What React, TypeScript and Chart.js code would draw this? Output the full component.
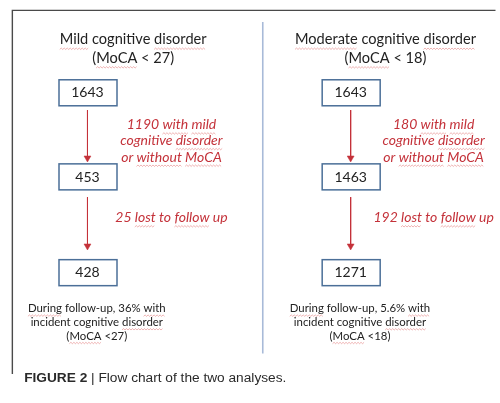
import React, { useEffect, useRef } from "react";
import { Chart, registerables } from "chart.js";
Chart.register(...registerables);

// ---- data ----
const panelTitles = ["Mild cognitive disorder", "Moderate cognitive disorder"];
const panelCriteria = ["(MoCA < 27)", "(MoCA < 18)"];
const mildCounts = [1643, 453, 428];
const moderateCounts = [1643, 1463, 1271];
const mildExcluded = [1190, 25];
const moderateExcluded = [180, 192];
const exclusionReasons = [
  ["with mild", "cognitive disorder", "or without MoCA"],
  ["lost to follow up"],
];
const incidence = ["36%", "5.6%"];
const incidenceCriteria = ["(MoCA <27)", "(MoCA <18)"];
const captionBold = "FIGURE 2";
const captionText = " | Flow chart of the two analyses.";
const flaggedWords = ["Mild", "Moderate", "disorder", "MoCA", "with", "mild", "without", "lost", "follow", "During"];

// ---- layout (pixel-space data coordinates) ----
const W = 500;
const H = 403;
const colBox = [84.5, 352.5];
const colNote = [170, 437];
const colTitle = [131, 388];
const colOutcome = [94, 362];
const boxTop = [77, 163, 261];
const BOX_W = 58;
const BOX_H = 26;
const arrows = [
  [108, 161],
  [197, 251],
];
const HEAD = 4;
const RED = "#c4323a";
const TEXT = "#222222";
const FONT = "Lato, 'Open Sans', sans-serif";

const counts = [mildCounts, moderateCounts];
const excluded = [mildExcluded, moderateExcluded];

function squiggle(ctx: CanvasRenderingContext2D, x1: number, x2: number, y: number) {
  ctx.save();
  ctx.strokeStyle = "rgba(215,70,70,0.5)";
  ctx.lineWidth = 0.8;
  ctx.beginPath();
  let up = false;
  for (let x = x1; x <= x2; x += 1.5) {
    const yy = y + (up ? -0.7 : 0.7);
    if (x === x1) ctx.moveTo(x, yy);
    else ctx.lineTo(x, yy);
    up = !up;
  }
  ctx.stroke();
  ctx.restore();
}

function drawLine(
  ctx: CanvasRenderingContext2D,
  text: string,
  cx: number,
  cy: number,
  font: string,
  color: string,
  size: number
) {
  ctx.save();
  ctx.font = font;
  ctx.fillStyle = color;
  ctx.textAlign = "left";
  ctx.textBaseline = "middle";
  const w = ctx.measureText(text).width;
  const x0 = cx - w / 2;
  ctx.fillText(text, x0, cy);
  let pos = 0;
  const tokens = text.split(" ");
  for (const tok of tokens) {
    const clean = tok.replace(/[(),<]/g, "");
    const start = text.indexOf(tok, pos);
    pos = start + tok.length;
    if (flaggedWords.includes(clean)) {
      const off = tok.indexOf(clean);
      const a = ctx.measureText(text.slice(0, start + off)).width;
      const b = ctx.measureText(clean).width;
      squiggle(ctx, x0 + a, x0 + a + b, cy + size * 0.62);
    }
  }
  ctx.restore();
}

const flowPlugin = {
  id: "flow",
  afterDatasetsDraw(chart: any) {
    const ctx: CanvasRenderingContext2D = chart.ctx;
    const xs = chart.scales.x;
    const ys = chart.scales.y;
    const px = (v: number) => xs.getPixelForValue(v);
    const py = (v: number) => ys.getPixelForValue(v);

    // frame
    ctx.save();
    ctx.strokeStyle = "#4a4a4a";
    ctx.lineWidth = 1.4;
    ctx.beginPath();
    ctx.moveTo(px(W), py(6));
    ctx.lineTo(px(8), py(6));
    ctx.lineTo(px(8), py(378));
    ctx.stroke();
    ctx.restore();

    for (let p = 0; p < 2; p++) {
      drawLine(ctx, panelTitles[p], px(colTitle[p]), py(36), `14.6px ${FONT}`, TEXT, 14.6);
      drawLine(ctx, panelCriteria[p], px(colTitle[p]), py(55), `14.6px ${FONT}`, TEXT, 14.6);

      counts[p].forEach((n, i) => {
        ctx.save();
        ctx.strokeStyle = "#4b6f98";
        ctx.lineWidth = 1.5;
        ctx.fillStyle = "#ffffff";
        const x = px(colBox[p] - BOX_W / 2);
        const y = py(boxTop[i]);
        ctx.fillRect(x, y, BOX_W, BOX_H);
        ctx.strokeRect(x, y, BOX_W, BOX_H);
        ctx.restore();
        drawLine(ctx, String(n), px(colBox[p]), py(boxTop[i] + BOX_H / 2 + 0.5), `14px ${FONT}`, TEXT, 14);
      });

      const reason1 = exclusionReasons[0];
      const lines1 = [`${excluded[p][0]} ${reason1[0]}`, reason1[1], reason1[2]];
      const ly = [123, 139, 156];
      lines1.forEach((t, i) =>
        drawLine(ctx, t, px(colNote[p]), py(ly[i]), `italic 14px ${FONT}`, RED, 14)
      );
      drawLine(
        ctx,
        `${excluded[p][1]} ${exclusionReasons[1][0]}`,
        px(colNote[p]),
        py(218),
        `italic 14px ${FONT}`,
        RED,
        14
      );

      const outLines = [
        `During follow-up, ${incidence[p]} with`,
        "incident cognitive disorder",
        incidenceCriteria[p],
      ];
      const oy = [311, 325, 339];
      outLines.forEach((t, i) =>
        drawLine(ctx, t, px(colOutcome[p]), py(oy[i]), `11.4px ${FONT}`, TEXT, 11.4)
      );
    }

    // caption
    ctx.save();
    ctx.textBaseline = "alphabetic";
    ctx.fillStyle = "#2a2a2a";
    ctx.font = "bold 13.7px 'Liberation Sans', Arial, sans-serif";
    const cx = px(20);
    const cy = py(386);
    ctx.fillText(captionBold, cx, cy);
    const bw = ctx.measureText(captionBold).width;
    ctx.font = "13.7px 'Liberation Sans', Arial, sans-serif";
    ctx.fillText(captionText, cx + bw, cy);
    ctx.restore();
  },
};

export default function App() {
  const ref = useRef<HTMLCanvasElement | null>(null);
  useEffect(() => {
    if (!ref.current) return;
    const datasets: any[] = [];
    datasets.push({
      type: "line",
      data: [
        { x: 263, y: 18 },
        { x: 263, y: 357 },
      ],
      borderColor: "#a8bad8",
      borderWidth: 1.6,
      pointRadius: 0,
    });
    for (const cx of colBox) {
      for (const [y1, y2] of arrows) {
        datasets.push({
          type: "line",
          data: [
            { x: cx, y: y1 },
            { x: cx, y: y2 - HEAD },
          ],
          borderColor: RED,
          borderWidth: 1,
          pointRadius: [0, HEAD],
          pointStyle: "triangle",
          rotation: 180,
          pointBackgroundColor: RED,
          pointBorderColor: RED,
          pointBorderWidth: 0.5,
        });
      }
    }
    const chart = new Chart(ref.current, {
      type: "scatter",
      data: { datasets },
      options: {
        animation: false,
        responsive: false,
        events: [],
        layout: { padding: 0 },
        plugins: { legend: { display: false }, tooltip: { enabled: false } },
        scales: {
          x: { type: "linear", min: 0, max: W, display: false },
          y: { type: "linear", min: 0, max: H, reverse: true, display: false },
        },
      },
      plugins: [flowPlugin],
    } as any);
    return () => chart.destroy();
  }, []);
  return (
    <div style={{ position: "fixed", left: 0, top: 0, width: W, height: H, background: "#fff" }}>
      <canvas ref={ref} width={W} height={H} style={{ display: "block" }} />
    </div>
  );
}
